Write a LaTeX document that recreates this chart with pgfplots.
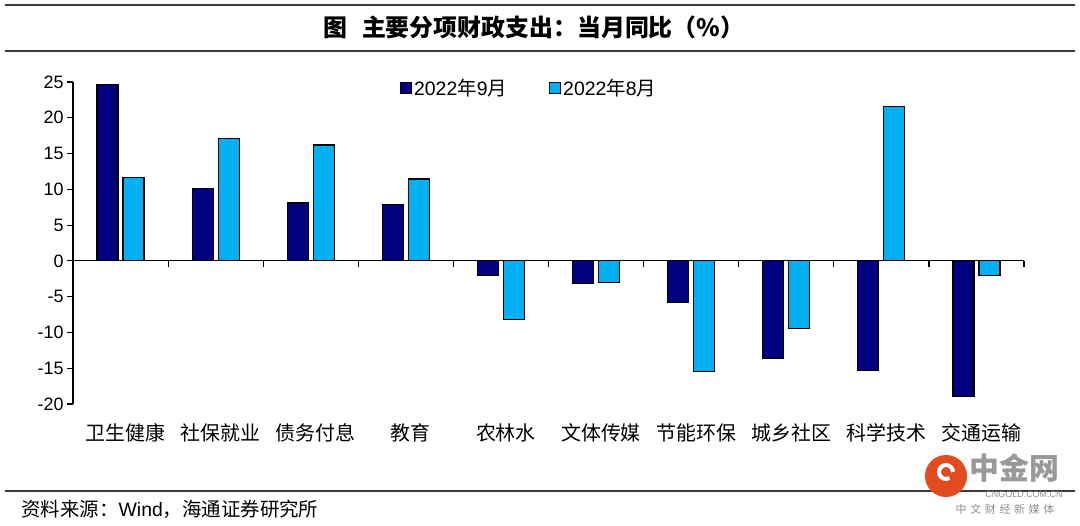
\documentclass[border=0pt]{standalone}
\usepackage{fontspec}
\setmainfont{Liberation Sans}
\newfontfamily\cjk{Noto Sans CJK SC}
\usepackage{pgfplots}
\pgfplotsset{compat=1.18}
\definecolor{navyb}{RGB}{0,0,128}
\definecolor{cyanb}{RGB}{0,176,240}
\definecolor{rulegray}{RGB}{60,60,60}
\definecolor{logored}{RGB}{225,75,30}
\begin{document}
\begin{tikzpicture}
\useasboundingbox (0bp,0bp) rectangle (1080bp,-526bp);
\draw[line width=2.5bp, rulegray] (5bp,-5bp) -- (1075bp,-5bp);
\draw[line width=2.5bp, rulegray] (5bp,-51bp) -- (1075bp,-51bp);
\node[font=\cjk\bfseries\fontsize{24}{28}\selectfont] at (534bp,-27bp) {图\hspace{0.6em}主要分项财政支出：当月同比（\%）};
\draw[line width=2bp, rulegray] (5bp,-491bp) -- (1075bp,-491bp);
\node[anchor=west, font=\cjk\fontsize{19.5}{22}\selectfont] at (18bp,-509bp) {资料来源：{\normalfont Wind}，海通证券研究所};
% watermark logo
\fill[logored] (946bp,-476bp) circle (21bp);
\draw[white, line width=4bp] (953bp,-472bp) arc (0:300:7bp);
\node[anchor=west, font=\cjk\bfseries\fontsize{30}{32}\selectfont, text=black!40] at (966bp,-468bp) {中金网};
\node[font=\fontsize{9}{10}\selectfont, text=black!45] at (1024bp,-494bp) {CNGOLD.COM.CN};
\node[font=\cjk\fontsize{11}{12}\selectfont, text=black!45] at (1005bp,-509bp) {中\,\,文\,\,财\,\,经\,\,新\,\,媒\,\,体};

\begin{axis}[
  at={(73bp,-404bp)}, anchor=south west,
  scale only axis, width=951bp, height=322bp,
  xmin=0, xmax=10, ymin=-20, ymax=25,
  axis x line*=bottom, axis y line*=left,
  x axis line style={draw=none},
  y axis line style={line width=1.2bp, -},
  ytick={-20,-15,...,25},
  xtick={0.5,1.5,...,9.5},
  xticklabels={卫生健康,社保就业,债务付息,教育,农林水,文体传媒,节能环保,城乡社区,科学技术,交通运输},
  x tick label style={font=\cjk\fontsize{20}{22}\selectfont, anchor=center, yshift=-23bp, xshift=5bp},
  xtick style={draw=none},
  ytick style={line width=1.2bp, black},
  tick align=outside, major tick length=6bp,
  y tick label style={font=\fontsize{18}{20}\selectfont},
  /pgf/number format/assume math mode=true,
  ybar=5bp, bar width=21bp,
  clip=false,
  legend style={at={(axis description cs:0.4795,0.981)}, anchor=center, draw=none, fill=none,
    font=\fontsize{19.5}{22}\selectfont, legend columns=2,
    /tikz/every even column/.append style={column sep=40bp}, inner sep=0pt},
  legend image code/.code={\draw[#1,line width=1.2bp] (0bp,-5.5bp) rectangle (11bp,5.5bp);},
]
\addplot[draw=black, line width=1.2bp, fill=navyb] coordinates {
 (0.5,24.7) (1.5,10.15) (2.5,8.1) (3.5,7.9) (4.5,-2.05)
 (5.5,-3.2) (6.5,-5.8) (7.5,-13.6) (8.5,-15.3) (9.5,-18.95)};
\addlegendentry{2022{\cjk 年}9{\cjk 月}}
\addplot[draw=black, line width=1.2bp, fill=cyanb] coordinates {
 (0.5,11.7) (1.5,17.1) (2.5,16.2) (3.5,11.45) (4.5,-8.2)
 (5.5,-3.0) (6.5,-15.5) (7.5,-9.5) (8.5,21.6) (9.5,-2.05)};
\addlegendentry{2022{\cjk 年}8{\cjk 月}}
\draw[line width=1.2bp] (axis cs:0,0) -- (axis cs:10,0);
\pgfplotsinvokeforeach{1,...,10}{\draw[line width=1.2bp] (axis cs:#1,0) -- ([yshift=-6bp]axis cs:#1,0);}
\end{axis}
\end{tikzpicture}
\end{document}
